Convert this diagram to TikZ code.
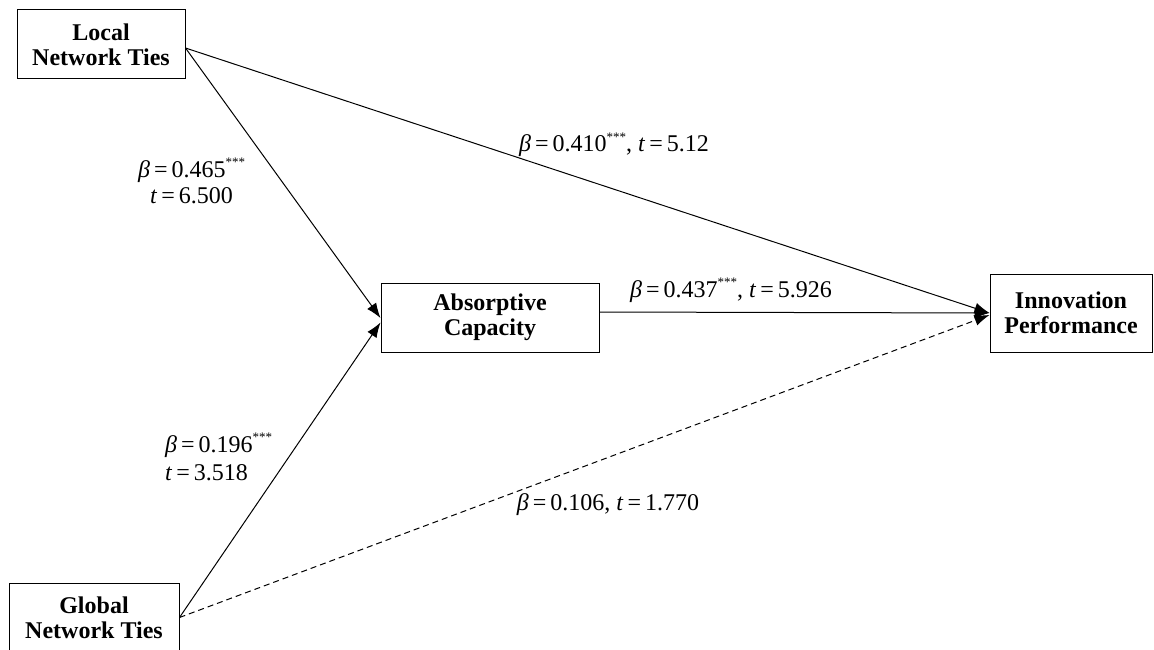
\documentclass[tikz,border=0pt]{standalone}
\usepackage{fontspec}
\setmainfont{Liberation Serif}
\usetikzlibrary{arrows.meta}
\tikzset{
  box/.style={draw, line width=1pt, inner sep=0pt, align=center, font=\fontsize{24}{25}\selectfont\bfseries},
  lbl/.style={inner sep=0pt, anchor=base, font=\fontsize{24}{26}\selectfont},
  conn/.style={line width=1pt, -{Latex[length=15pt,width=11pt]}},
}
\newcommand{\stars}{\raisebox{0.45em}{\fontsize{13}{13}\selectfont***}}
\begin{document}
\begin{tikzpicture}[x=1pt,y=-1pt]
\useasboundingbox (0,0) rectangle (1154,650);
\node[box, minimum width=168pt, minimum height=69pt] (loc) at (101,44.5) {Local\\Network Ties};
\node[box, minimum width=170pt, minimum height=69pt] (glo) at (94,617.5) {Global\\Network Ties};
\node[box, minimum width=218pt, minimum height=69pt] (abs) at (490,317.5) {Absorptive\\Capacity};
\node[box, minimum width=162pt, minimum height=78pt] (inn) at (1071,313) {Innovation\\Performance};

\draw[conn] ([yshift=-3.5pt]loc.east) -- (inn.west);
\draw[conn] ([yshift=-3.5pt]loc.east) -- ([yshift=-0.5pt]abs.west);
\draw[conn] ([yshift=5.5pt]abs.east) -- (inn.west);
\draw[conn] (glo.east) -- ([yshift=-5pt]abs.west);
\draw[conn, dash pattern=on 6pt off 4pt] (glo.east) -- ([yshift=-2pt]inn.west);

\node[lbl] (l1) at (614,152) {\textit{β}\,=\,0.410\stars, \textit{t}\,=\,5.12};
\node[lbl] (l2) at (731,297) {\textit{β}\,=\,0.437\stars, \textit{t}\,=\,5.926};
\node[lbl] (l3) at (608,510) {\textit{β}\,=\,0.106, \textit{t}\,=\,1.770};
\node[lbl, anchor=base west] (l4a) at (138,177) {\textit{β}\,=\,0.465\stars};
\node[lbl, anchor=base west] (l4b) at (150,203) {\textit{t}\,=\,6.500};
\node[lbl, anchor=base west] (l5a) at (165,452) {\textit{β}\,=\,0.196\stars};
\node[lbl, anchor=base west] (l5b) at (165,480) {\textit{t}\,=\,3.518};
\end{tikzpicture}
\end{document}
